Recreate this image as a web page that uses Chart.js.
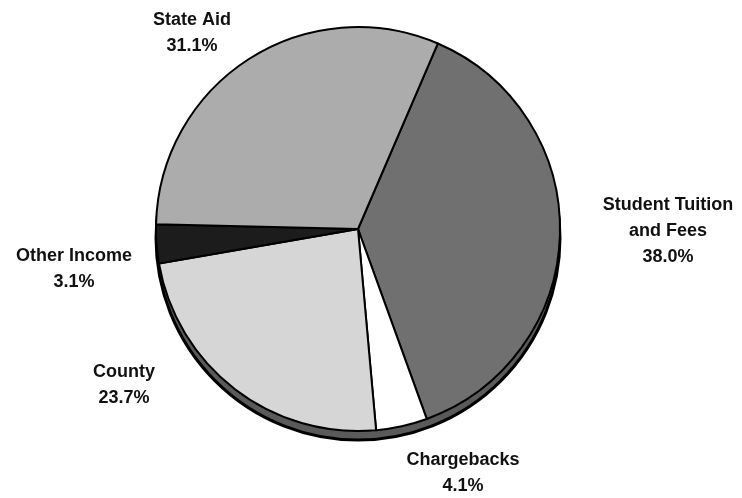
<!DOCTYPE html>
<html>
<head>
<meta charset="utf-8">
<script src="https://cdn.jsdelivr.net/npm/chart.js@4"></script>
<style>
    html, body { margin: 0; padding: 0; background: #fff; }
    #wrap { width: 742px; height: 498px; }
</style>
</head>
<body>
<div id="wrap"><canvas id="revenueChart"></canvas></div>
<script>
const categories = ["Student Tuition\nand Fees", "Chargebacks", "County", "Other Income", "State Aid"];
const shares = [38.0, 4.1, 23.7, 3.1, 31.1];
const shareLabels = ["38.0%", "4.1%", "23.7%", "3.1%", "31.1%"];

const sliceColors = ["#707070", "#ffffff", "#d6d6d6", "#1c1c1c", "#acacac"];

// thick bottom rim, drawn under the pie
const rimPlugin = {
    id: "rim",
    beforeDatasetsDraw(chart) {
        const arc = chart.getDatasetMeta(0).data[0];
        if (!arc) return;
        const ctx = chart.ctx;
        ctx.save();
        ctx.beginPath();
        ctx.arc(arc.x, arc.y + 9, arc.outerRadius, 0, Math.PI * 2);
        ctx.fillStyle = "#5a5a5a";
        ctx.fill();
        ctx.lineWidth = 3;
        ctx.strokeStyle = "#000";
        ctx.stroke();
        ctx.restore();
    }
};

// text placed round the pie, offsets from the pie centre
const outerLabels = {
    id: "outerLabels",
    afterDatasetsDraw(chart, args, opts) {
        const meta = chart.getDatasetMeta(0);
        const ctx = chart.ctx;
        ctx.save();
        ctx.font = "bold 18px 'Liberation Sans', Arial, sans-serif";
        ctx.fillStyle = "#111";
        ctx.textAlign = "center";
        ctx.textBaseline = "middle";
        meta.data.forEach((arc, i) => {
            const lines = categories[i].split("\n").concat(shareLabels[i]);
            const [dx, dy] = opts.anchors[i];
            const x = arc.x + dx;
            const top = arc.y + dy;
            lines.forEach((line, j) => {
                ctx.fillText(line, x, top + j * opts.lineHeight);
            });
        });
        ctx.restore();
    }
};

new Chart(document.getElementById("revenueChart"), {
    type: "pie",
    data: {
        labels: categories,
        datasets: [{
            data: shares,
            backgroundColor: sliceColors,
            borderColor: "#000",
            borderWidth: 2
        }]
    },
    options: {
        responsive: true,
        maintainAspectRatio: false,
        animation: false,
        rotation: 23.3,
        layout: {
            padding: { left: 155, right: 181, top: 26, bottom: 66 }
        },
        plugins: {
            legend: { display: false },
            tooltip: { enabled: false },
            outerLabels: {
                lineHeight: 26,
                anchors: [
                    [310, -24],
                    [105, 231],
                    [-234, 143],
                    [-284, 27],
                    [-166, -209]
                ]
            }
        }
    },
    plugins: [rimPlugin, outerLabels]
});
</script>
</body>
</html>
